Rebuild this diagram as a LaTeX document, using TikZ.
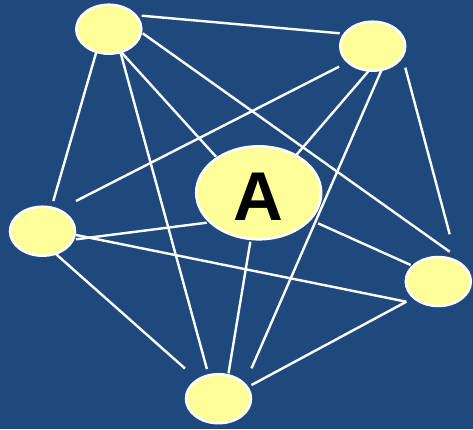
\documentclass[tikz,border=0pt]{standalone}
\usepackage{fontspec}
\usetikzlibrary{shapes.geometric}
\newfontfamily\labelfont{Liberation Sans}
\definecolor{bgblue}{RGB}{31,73,125}
\definecolor{nodeyellow}{RGB}{255,255,153}
\tikzset{
  smallnode/.style={ellipse, draw=white, line width=2.5pt, fill=nodeyellow,
    minimum width=65pt, minimum height=49pt, inner sep=0pt},
  bignode/.style={ellipse, draw=white, line width=2.5pt, fill=nodeyellow,
    minimum width=125pt, minimum height=93pt, inner sep=0pt,
    text height=56pt, text depth=0pt,
    font=\labelfont\bfseries\fontsize{69}{69}\selectfont, text=black},
  link/.style={draw=white, line width=2.4pt}
}
\begin{document}
\begin{tikzpicture}[x=1pt,y=-1pt]
\fill[bgblue] (0,0) rectangle (473,429);
\useasboundingbox (0,0) rectangle (473,429);
% endpoints of connectors
\coordinate (a1) at (141.7,15.7);  \coordinate (b1) at (339.7,33.3);
\coordinate (a2) at (142.7,33.3);  \coordinate (b2) at (449.7,251.7);
\coordinate (a3) at (119.3,50);    \coordinate (b3) at (216,156.7);
\coordinate (a4) at (96.7,50.7);   \coordinate (b4) at (53.3,201);
\coordinate (a5) at (120,50.7);    \coordinate (b5) at (206.9,369);
\coordinate (a6) at (339,66.7);    \coordinate (b6) at (76,201);
\coordinate (a7) at (368,71.7);    \coordinate (b7) at (296.3,155);
\coordinate (a8) at (383,66.7);    \coordinate (b8) at (251.5,368.3);
\coordinate (a9) at (405.3,67.7);  \coordinate (b9) at (449.7,234.3);
\coordinate (a10) at (76,239.3);   \coordinate (b10) at (206.7,222.7);
\coordinate (a11) at (76,235);     \coordinate (b11) at (406.3,301.7);
\coordinate (a12) at (53.3,251.7); \coordinate (b12) at (185,368.5);
\coordinate (a13) at (318,223.3);  \coordinate (b13) at (410.7,265);
\coordinate (a14) at (250.3,241.7);\coordinate (b14) at (228.5,373.3);
\coordinate (a15) at (406.3,301.7);\coordinate (b15) at (251.5,385);
\foreach \i in {1,...,15} { \draw[link] (a\i) -- (b\i); }
% nodes
\node[smallnode] (n1) at (108.8,29.2) {};
\node[smallnode] (n2) at (372.7,46.2) {};
\node[smallnode] (n3) at (42.5,231.2) {};
\node[smallnode] (n4) at (438.3,281.5) {};
\node[smallnode] (n5) at (218.5,398.7) {};
\node[bignode] (A) at (258.7,192.8) {A};
\end{tikzpicture}
\end{document}
